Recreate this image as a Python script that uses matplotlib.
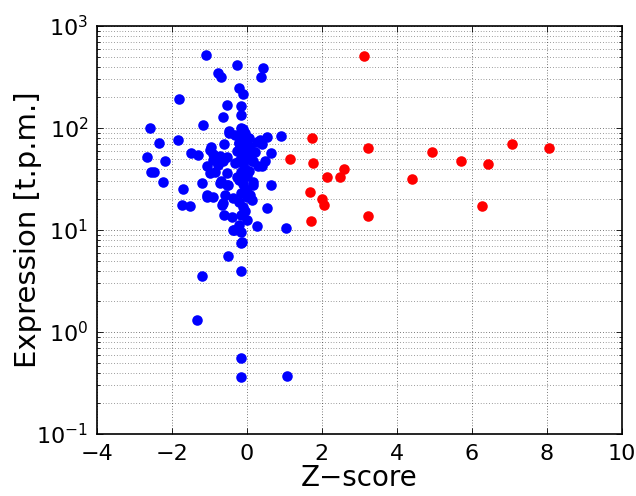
import matplotlib
matplotlib.use("Agg")
import matplotlib.pyplot as plt
from matplotlib.ticker import LogLocator

# Red (high Z-score) points
red_z = [3.13, 1.73, 1.15, 3.23, 1.78, 2.60, 2.15, 2.48, 4.95, 5.71,
         6.43, 7.07, 8.05, 4.40, 1.70, 2.02, 2.06, 6.27, 1.71, 3.23]
red_expr = [505, 79, 50, 63, 45, 39.6, 32.9, 32.9, 58.6, 47,
            44, 69, 63, 31.4, 23.4, 20.1, 17.6, 17.3, 12.2, 13.8]

# Blue points
blue_z = [-1.08, -0.27, -0.76, -0.69, 0.44, 0.37, -0.21, -0.11, -1.81, -0.52,
          -0.15, -0.15, -0.64, -2.58, -1.16, -0.48, -0.15,
          -2.34, -1.83, -2.65, -2.17, -2.56, -2.47, -2.22, -1.71, -1.73, -1.50,
          -1.49, -1.29, -1.19, -1.07, -0.98,
          -0.46, 0.53, 0.91, -0.96, -0.61, 0.40, 0.27, 0.64, 0.09, -0.89,
          -0.53, 0.13, 0.49, 0.31, -1.07, -0.85, -0.53, -0.71, 0.18, 0.65,
          -0.49, -1.05, -0.89, -0.58, 0.09, -0.36, -0.67, 0.53, -0.61, -0.40,
          0.28, 1.05, -0.36, -0.15, -0.15,
          -0.51, -0.16, -1.20, -1.33, -0.16, -0.16, 1.07,
          -0.89, -0.71, -0.76, -0.62, -0.98, -0.69, -0.53, -0.62, -0.33, -0.13,
          0.22, 0.18, 0.40, 0.18, 0.13, 0.00, 0.35,
          -0.10, -0.05, -0.15, 0.00, -0.20, -0.10, -0.05, -0.15, 0.00, -0.20,
          -0.10, -0.05, -0.15, 0.00, -0.20, -0.10, -0.05, -0.15, 0.00, -0.20,
          -0.10, -0.05, -0.15, 0.00, -0.20,
          -0.30, 0.05, -0.25, 0.00, -0.30, 0.05, -0.25, 0.02, -0.20]
blue_expr = [520, 412, 344, 316, 385, 316, 245, 215, 192, 168,
             166, 133, 128, 100, 107, 94, 100,
             72, 76, 52, 47, 36.8, 36.8, 29.7, 25, 17.6, 17.3,
             57, 54, 28.7, 21.2, 61,
             90, 81, 83, 65, 70, 70, 73, 57, 65, 56,
             52, 47, 47, 42, 42, 37, 36, 28.7, 29.7, 27.5,
             27.5, 22, 21.2, 22, 22, 20.4, 17.6, 16.3, 14, 13.5,
             10.9, 10.5, 10, 9.6, 7.5,
             5.6, 4.0, 3.55, 1.30, 0.56, 0.365, 0.37,
             49, 53, 43.5, 47, 36, 30, 27.5, 18.3, 10, 7.6,
             58.5, 47, 42, 27.5, 19.7, 23.8, 76,
             98, 90, 83, 77, 71, 66, 61, 56, 52, 48,
             44, 40, 37, 34, 31, 28, 25.5, 23, 21, 19,
             17, 15.5, 14, 12.5, 11.3,
             85, 80, 60, 55, 45, 38, 33, 62, 72]

fig = plt.figure(figsize=(6.36, 4.96), dpi=100, facecolor="white")
ax = fig.add_axes([0.152, 0.125, 0.8255, 0.8225])

ms = 7.6
ax.plot(blue_z, blue_expr, "o", color="blue", markersize=ms, markeredgewidth=0, zorder=3)
ax.plot(red_z, red_expr, "o", color="red", markersize=ms, markeredgewidth=0, zorder=3)

ax.set_yscale("log")
ax.set_xlim(-4, 10)
ax.set_ylim(0.1, 1000)
ax.set_xticks([-4, -2, 0, 2, 4, 6, 8, 10])
ax.yaxis.set_major_locator(LogLocator(base=10, numticks=10))
ax.yaxis.set_minor_locator(LogLocator(base=10, subs=range(2, 10), numticks=20))

dots = (0, (1, 3))
ax.grid(True, which="major", color="black", linestyle=dots, linewidth=0.5)
ax.grid(True, which="minor", color="black", linestyle=dots, linewidth=0.5, alpha=0.75)

ax.tick_params(which="both", direction="in", top=True, right=True, labelsize=16)
ax.tick_params(which="major", length=4, width=0.6)
ax.tick_params(which="minor", length=2, width=0.6)
ax.tick_params(axis="x", pad=7)
ax.tick_params(axis="y", pad=6)
for s in ax.spines.values():
    s.set_linewidth(1.2)

ax.set_xlabel("Z\u2212score", fontsize=20, labelpad=0)
ax.set_ylabel("Expression [t.p.m.]", fontsize=21, labelpad=-4)

fig.savefig("out.png", dpi=100, facecolor="white")
